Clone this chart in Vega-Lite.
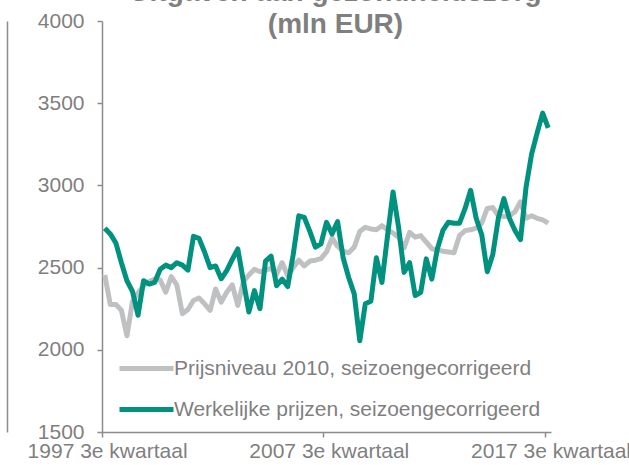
{
  "$schema": "https://vega.github.io/schema/vega-lite/v6.json",
  "width": 449,
  "height": 411,
  "autosize": {"type": "none"},
  "padding": {"left": 102, "top": 21, "right": 78, "bottom": 33},
  "background": "white",
  "config": {"font": "Liberation Sans", "view": {"stroke": null}},
  "title": {
    "text": ["Uitgaven aan gezondheidszorg", "(mln EUR)"],
    "fontSize": 28,
    "fontWeight": "bold",
    "color": "#7f7f7f",
    "anchor": "middle",
    "frame": "group",
    "offset": -29,
    "dx": 9,
    "lineHeight": 32
  },
  "data": {
    "values": [
      {"q": "1997 3e kwartaal", "p": 2455, "w": 2740},
      {"q": "1997 4e kwartaal", "p": 2275, "w": 2705},
      {"q": "1998 1e kwartaal", "p": 2275, "w": 2650},
      {"q": "1998 2e kwartaal", "p": 2240, "w": 2530},
      {"q": "1998 3e kwartaal", "p": 2085, "w": 2420},
      {"q": "1998 4e kwartaal", "p": 2295, "w": 2355},
      {"q": "1999 1e kwartaal", "p": 2345, "w": 2210},
      {"q": "1999 2e kwartaal", "p": 2390, "w": 2420},
      {"q": "1999 3e kwartaal", "p": 2415, "w": 2400},
      {"q": "1999 4e kwartaal", "p": 2430, "w": 2410},
      {"q": "2000 1e kwartaal", "p": 2425, "w": 2490},
      {"q": "2000 2e kwartaal", "p": 2350, "w": 2515},
      {"q": "2000 3e kwartaal", "p": 2445, "w": 2500},
      {"q": "2000 4e kwartaal", "p": 2395, "w": 2530},
      {"q": "2001 1e kwartaal", "p": 2220, "w": 2515},
      {"q": "2001 2e kwartaal", "p": 2245, "w": 2485},
      {"q": "2001 3e kwartaal", "p": 2300, "w": 2690},
      {"q": "2001 4e kwartaal", "p": 2315, "w": 2678},
      {"q": "2002 1e kwartaal", "p": 2280, "w": 2595},
      {"q": "2002 2e kwartaal", "p": 2240, "w": 2500},
      {"q": "2002 3e kwartaal", "p": 2370, "w": 2510},
      {"q": "2002 4e kwartaal", "p": 2290, "w": 2432},
      {"q": "2003 1e kwartaal", "p": 2350, "w": 2482},
      {"q": "2003 2e kwartaal", "p": 2395, "w": 2550},
      {"q": "2003 3e kwartaal", "p": 2270, "w": 2614},
      {"q": "2003 4e kwartaal", "p": 2415, "w": 2420},
      {"q": "2004 1e kwartaal", "p": 2455, "w": 2230},
      {"q": "2004 2e kwartaal", "p": 2490, "w": 2360},
      {"q": "2004 3e kwartaal", "p": 2475, "w": 2250},
      {"q": "2004 4e kwartaal", "p": 2485, "w": 2540},
      {"q": "2005 1e kwartaal", "p": 2495, "w": 2570},
      {"q": "2005 2e kwartaal", "p": 2460, "w": 2390},
      {"q": "2005 3e kwartaal", "p": 2530, "w": 2430},
      {"q": "2005 4e kwartaal", "p": 2450, "w": 2385},
      {"q": "2006 1e kwartaal", "p": 2500, "w": 2580},
      {"q": "2006 2e kwartaal", "p": 2545, "w": 2815},
      {"q": "2006 3e kwartaal", "p": 2510, "w": 2805},
      {"q": "2006 4e kwartaal", "p": 2540, "w": 2720},
      {"q": "2007 1e kwartaal", "p": 2545, "w": 2625},
      {"q": "2007 2e kwartaal", "p": 2555, "w": 2645},
      {"q": "2007 3e kwartaal", "p": 2595, "w": 2775},
      {"q": "2007 4e kwartaal", "p": 2680, "w": 2705},
      {"q": "2008 1e kwartaal", "p": 2630, "w": 2780},
      {"q": "2008 2e kwartaal", "p": 2600, "w": 2560},
      {"q": "2008 3e kwartaal", "p": 2590, "w": 2440},
      {"q": "2008 4e kwartaal", "p": 2625, "w": 2340},
      {"q": "2009 1e kwartaal", "p": 2720, "w": 2055},
      {"q": "2009 2e kwartaal", "p": 2745, "w": 2280},
      {"q": "2009 3e kwartaal", "p": 2735, "w": 2295},
      {"q": "2009 4e kwartaal", "p": 2730, "w": 2560},
      {"q": "2010 1e kwartaal", "p": 2755, "w": 2410},
      {"q": "2010 2e kwartaal", "p": 2730, "w": 2690},
      {"q": "2010 3e kwartaal", "p": 2710, "w": 2960},
      {"q": "2010 4e kwartaal", "p": 2685, "w": 2746},
      {"q": "2011 1e kwartaal", "p": 2620, "w": 2471},
      {"q": "2011 2e kwartaal", "p": 2715, "w": 2530},
      {"q": "2011 3e kwartaal", "p": 2685, "w": 2330},
      {"q": "2011 4e kwartaal", "p": 2695, "w": 2350},
      {"q": "2012 1e kwartaal", "p": 2655, "w": 2553},
      {"q": "2012 2e kwartaal", "p": 2615, "w": 2430},
      {"q": "2012 3e kwartaal", "p": 2608, "w": 2614},
      {"q": "2012 4e kwartaal", "p": 2600, "w": 2726},
      {"q": "2013 1e kwartaal", "p": 2595, "w": 2776},
      {"q": "2013 2e kwartaal", "p": 2590, "w": 2770},
      {"q": "2013 3e kwartaal", "p": 2695, "w": 2770},
      {"q": "2013 4e kwartaal", "p": 2725, "w": 2860},
      {"q": "2014 1e kwartaal", "p": 2730, "w": 2970},
      {"q": "2014 2e kwartaal", "p": 2740, "w": 2800},
      {"q": "2014 3e kwartaal", "p": 2770, "w": 2700},
      {"q": "2014 4e kwartaal", "p": 2860, "w": 2475},
      {"q": "2015 1e kwartaal", "p": 2865, "w": 2580},
      {"q": "2015 2e kwartaal", "p": 2815, "w": 2800},
      {"q": "2015 3e kwartaal", "p": 2810, "w": 2920},
      {"q": "2015 4e kwartaal", "p": 2815, "w": 2800},
      {"q": "2016 1e kwartaal", "p": 2840, "w": 2726},
      {"q": "2016 2e kwartaal", "p": 2900, "w": 2670},
      {"q": "2016 3e kwartaal", "p": 2800, "w": 2990},
      {"q": "2016 4e kwartaal", "p": 2815, "w": 3190},
      {"q": "2017 1e kwartaal", "p": 2800, "w": 3320},
      {"q": "2017 2e kwartaal", "p": 2790, "w": 3440},
      {"q": "2017 3e kwartaal", "p": 2770, "w": 3350}
    ]
  },
  "transform": [{"fold": ["p", "w"], "as": ["reeks", "waarde"]}],
  "encoding": {
    "x": {
      "field": "q",
      "type": "ordinal",
      "sort": null,
      "scale": {"type": "band", "paddingInner": 0, "paddingOuter": 0},
      "axis": {
        "values": ["1997 3e kwartaal", "2007 3e kwartaal", "2017 3e kwartaal"],
        "labelAngle": 0,
        "bandPosition": 0,
        "tickSize": 5,
        "labelFontSize": 21,
        "labelColor": "#7f7f7f",
        "labelPadding": 3,
        "labelOffset": 2.8,
        "labelOverlap": false,
        "labelFlush": false,
        "domainColor": "#8c8c8c",
        "tickColor": "#8c8c8c",
        "domainWidth": 1.5,
        "tickWidth": 1.5,
        "title": null
      }
    }
  },
  "layer": [
    {
      "mark": {"type": "line", "opacity": 0},
      "encoding": {
        "y": {
          "field": "waarde",
          "type": "quantitative",
          "scale": {"domain": [1500, 4000], "nice": false},
          "axis": {
            "orient": "left",
            "offset": 95,
            "labels": false,
            "ticks": false,
            "grid": false,
            "title": null,
            "domainColor": "#8c8c8c",
            "domainWidth": 1.5
          }
        },
        "detail": {"field": "reeks", "type": "nominal"}
      }
    },
    {
      "mark": {"type": "line", "strokeWidth": 5, "strokeJoin": "round"},
      "encoding": {
        "y": {
          "field": "waarde",
          "type": "quantitative",
          "scale": {"domain": [1500, 4000], "nice": false},
          "axis": {
            "orient": "left",
            "values": [1500, 2000, 2500, 3000, 3500, 4000],
            "format": "d",
            "tickSize": 5,
            "labelFontSize": 21,
            "labelColor": "#7f7f7f",
            "labelPadding": 13,
            "domainColor": "#8c8c8c",
            "tickColor": "#8c8c8c",
            "domainWidth": 1.5,
            "tickWidth": 1.5,
            "grid": false,
            "title": null
          }
        },
        "color": {
          "field": "reeks",
          "type": "nominal",
          "scale": {"domain": ["p", "w"], "range": ["#bfc0c2", "#00917f"]},
          "legend": {
            "orient": "none",
            "legendX": 15,
            "legendY": 318,
            "title": null,
            "symbolType": "stroke",
            "symbolSize": 2916,
            "symbolStrokeWidth": 5,
            "labelFontSize": 21,
            "labelColor": "#7f7f7f",
            "labelOffset": -2,
            "rowPadding": 1,
            "labelLimit": 500,
            "labelExpr": "datum.value == 'p' ? 'Prijsniveau 2010, seizoengecorrigeerd' : 'Werkelijke prijzen, seizoengecorrigeerd'"
          }
        }
      }
    }
  ],
  "resolve": {"axis": {"y": "independent"}}
}
